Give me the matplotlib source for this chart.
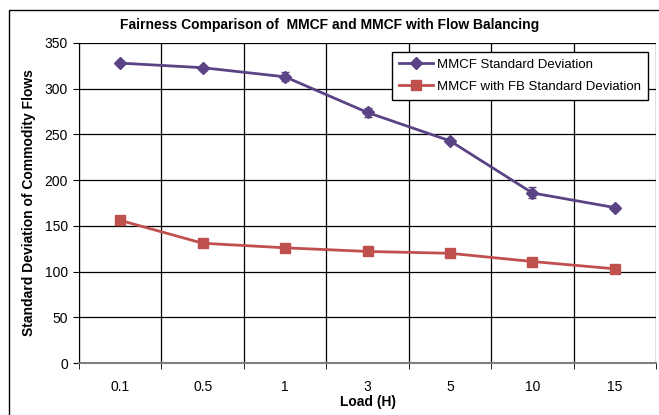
import matplotlib
matplotlib.use("Agg")
import matplotlib.pyplot as plt
from matplotlib.patches import Rectangle
import numpy as np

plt.rcParams["font.family"] = ["Liberation Sans", "DejaVu Sans"]

loads = ["0.1", "0.5", "1", "3", "5", "10", "15"]
mmcf_std = [328, 323, 313, 274, 243, 186, 170]
mmcf_err = [2, 2, 5, 5, 2, 6, 3]
fb_std = [156, 131, 126, 122, 120, 111, 103]
fb_err = [2, 2, 2, 2, 2, 2, 2]

purple = "#5B4485"
red = "#C0504D"

fig = plt.figure(figsize=(6.59, 4.15), dpi=100)
ax = fig.add_axes([79 / 659, 1 - 363 / 415, (656 - 79) / 659, (363 - 43) / 415])

# outer frame of the chart area
fig.patches.append(Rectangle((9 / 659, -0.1), 1.2, 1.1 - 10 / 415, transform=fig.transFigure,
                             fill=False, edgecolor="black", linewidth=1.0))

x = np.arange(len(loads))
ax.errorbar(x, mmcf_std, yerr=mmcf_err, fmt="none", ecolor=purple, capsize=3, elinewidth=1, zorder=3)
ax.errorbar(x, fb_std, yerr=fb_err, fmt="none", ecolor=red, capsize=3, elinewidth=1, zorder=3)
ax.plot(x, mmcf_std, color=purple, marker="D", markersize=6, linewidth=2,
        label="MMCF Standard Deviation", zorder=4)
ax.plot(x, fb_std, color=red, marker="s", markersize=7, linewidth=2,
        label="MMCF with FB Standard Deviation", zorder=4)

ax.set_xlim(-0.5, len(loads) - 0.5)
ax.set_ylim(0, 350)
ax.set_yticks(np.arange(0, 351, 50))
ax.set_xticks(x)
ax.set_xticklabels(loads, fontsize=10)
ax.tick_params(axis="x", length=0, pad=12)
ax.tick_params(axis="y", labelsize=10, length=4, direction="out", pad=4)
ax.set_xticks(np.arange(-0.5, len(loads), 1), minor=True)
ax.tick_params(axis="x", which="minor", length=4, direction="out")

ax.grid(True, axis="y", color="black", linewidth=0.9)
ax.grid(True, axis="x", which="minor", color="black", linewidth=0.9)
ax.set_axisbelow(True)

for s in ["top", "right"]:
    ax.spines[s].set_visible(False)
ax.spines["left"].set_color("black")
ax.spines["bottom"].set_color("#808080")
ax.spines["bottom"].set_linewidth(1.5)

ax.set_xlabel("Load (H)", fontsize=10, fontweight="bold", labelpad=1)
ax.set_ylabel("Standard Deviation of Commodity Flows", fontsize=10, fontweight="bold", labelpad=6)
fig.text(0.5, 1 - 25 / 415, "Fairness Comparison of  MMCF and MMCF with Flow Balancing",
         ha="center", va="center", fontsize=10, fontweight="bold")

leg = ax.legend(loc="upper right", bbox_to_anchor=(0.986, 0.972), fontsize=9.5,
                frameon=True, fancybox=False, edgecolor="black", framealpha=1,
                handlelength=2.6, handletextpad=0.3, borderpad=0.5, labelspacing=0.75,
                borderaxespad=0)
leg.get_frame().set_linewidth(1.0)

fig.savefig("out.png", dpi=100)
